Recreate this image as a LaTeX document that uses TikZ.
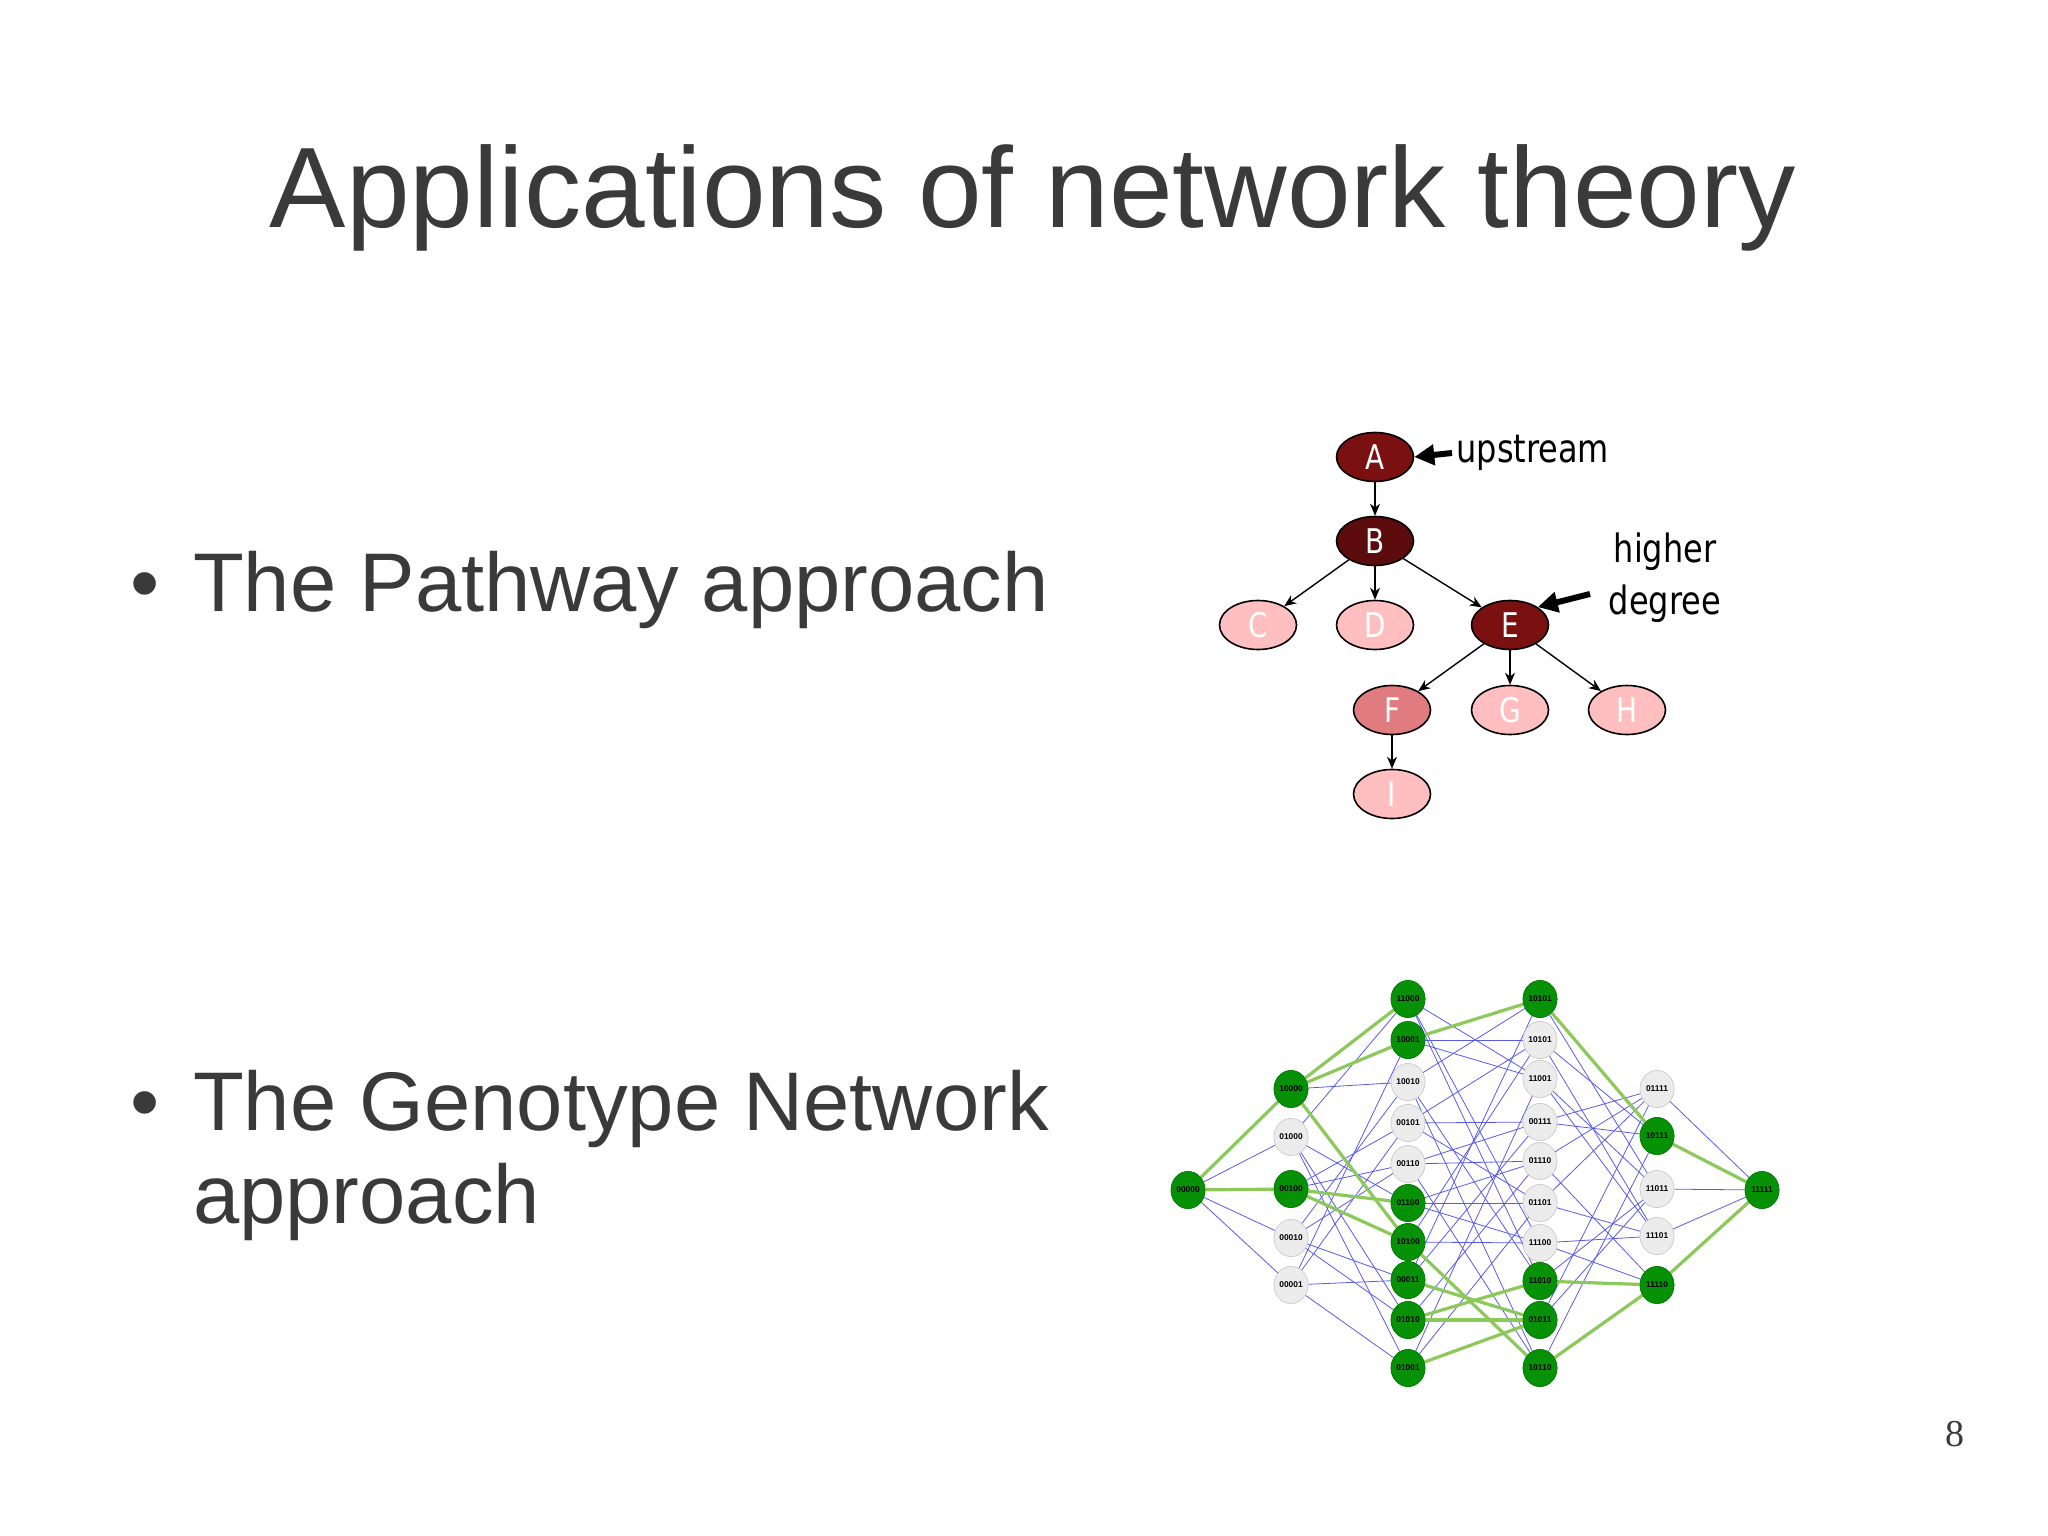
\documentclass[tikz,border=0pt]{standalone}
\usepackage{fontspec}
\setmainfont{Liberation Sans}
\newfontfamily\dvs[FakeStretch=0.82]{DejaVu Sans}
\newfontfamily\serifnum{Liberation Serif}
\usetikzlibrary{shapes.geometric,arrows.meta}
\definecolor{txt}{HTML}{3A3A3A}
\definecolor{darkr}{HTML}{7A1010}
\definecolor{darkerr}{HTML}{5C0C0C}
\definecolor{midr}{HTML}{E07B7F}
\definecolor{lightr}{HTML}{FFBFC1}
\definecolor{gnode}{HTML}{079107}
\definecolor{gedge}{HTML}{8CC85A}
\definecolor{bedge}{HTML}{5A5AE6}
\tikzset{
 pnode/.style={ellipse,draw=black,line width=0.8pt,minimum width=38.5pt,minimum height=24.5pt,inner sep=0pt,font=\dvs\fontsize{17}{17}\selectfont,text=white},
 parr/.style={-{Stealth[length=6pt,width=5pt]},line width=0.7pt},
 gn/.style={ellipse,minimum width=17pt,minimum height=18.5pt,inner sep=0pt,font=\bfseries\fontsize{4.2}{5}\selectfont},
 gg/.style={gn,fill=gnode,draw=gnode!85!black,line width=0.3pt},
 gw/.style={gn,fill=gray!15,draw=gray!40,line width=0.3pt},
 be/.style={bedge,line width=0.4pt},
 ge/.style={gedge,line width=1.6pt},
}
\begin{document}
\begin{tikzpicture}[x=0.5pt,y=-0.5pt]
\useasboundingbox (0,0) rectangle (2048,1535);
\node[text=txt,font=\fontsize{57.2}{60}\selectfont] (title) at (1033,198) {Applications of network theory};
\node[text=txt,font=\fontsize{41.6}{46}\selectfont,anchor=west] (t1) at (123,590) {\textbullet\hspace{17pt}The Pathway approach};
\node[text=txt,font=\fontsize{41.6}{46.5}\selectfont,anchor=west,align=left] (t2) at (123,1155) {\textbullet\hspace{17pt}The Genotype Network\\\hphantom{\textbullet\hspace{17pt}}approach};
\node[text=txt,font=\serifnum\fontsize{19}{19}\selectfont] (pg) at (1955,1434) {8};
% pathway
\node[pnode,fill=darkr] (A) at (1375,457) {A};
\node[pnode,fill=darkerr] (B) at (1375,541) {B};
\node[pnode,fill=lightr] (C) at (1258,625) {C};
\node[pnode,fill=lightr] (D) at (1375,625) {D};
\node[pnode,fill=darkr] (E) at (1510,625) {E};
\node[pnode,fill=midr] (F) at (1392,710) {F};
\node[pnode,fill=lightr] (G) at (1510,710) {G};
\node[pnode,fill=lightr] (H) at (1627,710) {H};
\node[pnode,fill=lightr] (I) at (1392,794) {I};
\draw[parr] (A) -- (B);
\draw[parr] (B) -- (C);
\draw[parr] (B) -- (D);
\draw[parr] (B) -- (E);
\draw[parr] (E) -- (F);
\draw[parr] (E) -- (G);
\draw[parr] (E) -- (H);
\draw[parr] (F) -- (I);
\node[font=\dvs\fontsize{19.5}{19.5}\selectfont,anchor=west,inner sep=2pt] (up) at (1452,453) {upstream};
\node[font=\dvs\fontsize{19.5}{26}\selectfont,align=center] (hd) at (1665,578) {higher\\degree};
\draw[-{Triangle[length=10pt,width=10pt]},line width=3pt] (up.west) -- (A.east);
\coordinate (hdp) at (1590,594);
\draw[-{Triangle[length=10pt,width=10pt]},line width=3pt] (hdp) -- (E.north east);
% genotype network
\node[gg] (a) at (1188,1190) {00000};
\node[gg] (b1) at (1291,1089) {10000};
\node[gw] (b2) at (1291,1137) {01000};
\node[gg] (b3) at (1291,1189) {00100};
\node[gw] (b4) at (1291,1238) {00010};
\node[gw] (b5) at (1291,1285) {00001};
\foreach \n/\y/\s/\l in {1/999/gg/11000,2/1040/gg/10001,3/1082/gw/10010,4/1123/gw/00101,5/1164/gw/00110,6/1203/gg/01100,7/1242/gg/10100,8/1280/gg/00011,9/1320/gg/01010,10/1368/gg/01001}
  \node[\s] (c\n) at (1408,\y) {\l};
\foreach \n/\y/\s/\l in {1/999/gg/10101,2/1040/gw/10101,3/1079/gw/11001,4/1122/gw/00111,5/1161/gw/01110,6/1203/gw/01101,7/1243/gw/11100,8/1281/gg/11010,9/1320/gg/01011,10/1368/gg/10110}
  \node[\s] (d\n) at (1540,\y) {\l};
\node[gw] (e1) at (1657,1089) {01111};
\node[gg] (e2) at (1657,1136) {10111};
\node[gw] (e3) at (1657,1189) {11011};
\node[gw] (e4) at (1657,1236) {11101};
\node[gg] (e5) at (1657,1285) {11110};
\node[gg] (f) at (1762,1190) {11111};
\foreach \u/\v in {a/b1,a/b2,a/b3,a/b4,a/b5,
 b1/c1,b1/c7,b1/c3,b1/c2, b2/c1,b2/c6,b2/c9,b2/c10, b3/c7,b3/c6,b3/c5,b3/c4, b4/c3,b4/c9,b4/c5,b4/c8, b5/c2,b5/c10,b5/c4,b5/c8,
 c1/d7,c1/d8,c1/d3, c2/d3,c2/d2,c2/d1, c3/d8,c3/d10,c3/d1, c4/d2,c4/d6,c4/d4, c5/d10,c5/d5,c5/d4, c6/d7,c6/d5,c6/d6, c7/d7,c7/d10,c7/d2, c8/d1,c8/d9,c8/d4, c9/d8,c9/d5,c9/d9, c10/d3,c10/d6,c10/d9,
 d1/e2,d1/e3, d2/e4,d2/e2, d3/e4,d3/e3, d4/e2,d4/e1, d5/e5,d5/e1, d6/e4,d6/e1, d7/e5,d7/e4, d8/e5,d8/e3, d9/e3,d9/e1, d10/e5,d10/e2,
 e1/f,e2/f,e3/f,e4/f,e5/f}
  \draw[be] (\u) -- (\v);
\foreach \u/\v in {a/b1,a/b3,b1/c1,b1/c2,b1/c7,b3/c6,b3/c7,c2/d1,c7/d10,c8/d9,c9/d8,c9/d9,c10/d9,d1/e2,d8/e5,d10/e5,e2/f,e5/f}
  \draw[ge] (\u) -- (\v);
% redraw nodes on top of the edges
\foreach \nm/\s/\l in {a/gg/00000,b1/gg/10000,b2/gw/01000,b3/gg/00100,b4/gw/00010,b5/gw/00001,
 c1/gg/11000,c2/gg/10001,c3/gw/10010,c4/gw/00101,c5/gw/00110,c6/gg/01100,c7/gg/10100,c8/gg/00011,c9/gg/01010,c10/gg/01001,
 d1/gg/10101,d2/gw/10101,d3/gw/11001,d4/gw/00111,d5/gw/01110,d6/gw/01101,d7/gw/11100,d8/gg/11010,d9/gg/01011,d10/gg/10110,
 e1/gw/01111,e2/gg/10111,e3/gw/11011,e4/gw/11101,e5/gg/11110,f/gg/11111}
  \node[\s] at (\nm) {\l};
\end{tikzpicture}
\end{document}
